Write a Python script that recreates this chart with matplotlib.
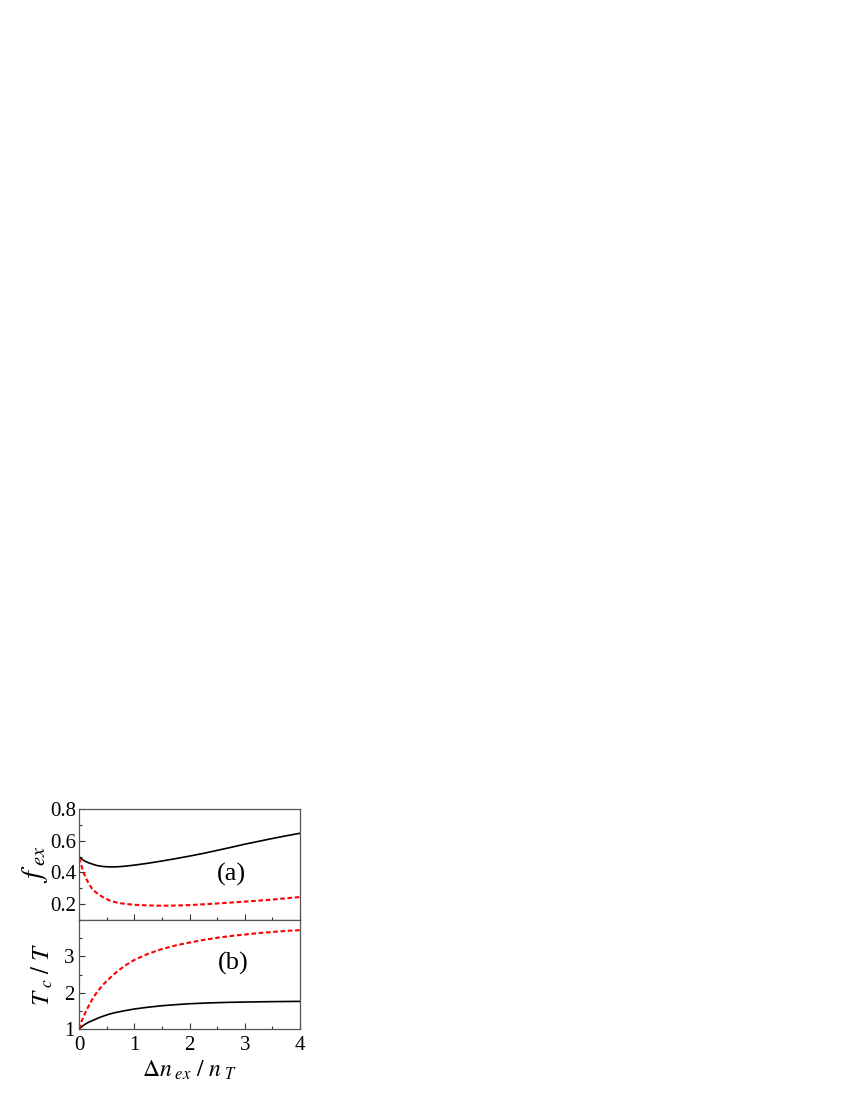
import matplotlib
matplotlib.use('Agg')
import matplotlib.pyplot as plt
from matplotlib.ticker import MultipleLocator

plt.rcParams['font.family'] = ['Liberation Serif', 'DejaVu Serif']
plt.rcParams['mathtext.fontset'] = 'stix'

# values
x = [0, 0.03, 0.07, 0.12, 0.18, 0.24, 0.3, 0.36, 0.45, 0.55, 0.65, 0.75, 0.85,
     1.0, 1.25, 1.5, 1.75, 2.0, 2.25, 2.5, 2.75, 3.0, 3.25, 3.5, 3.75, 4.0]
f_black = [0.50, 0.49, 0.479, 0.469, 0.46, 0.453, 0.446, 0.441, 0.437, 0.435, 0.435,
           0.437, 0.44, 0.446, 0.458, 0.472, 0.487, 0.503, 0.52, 0.539, 0.558,
           0.578, 0.596, 0.614, 0.631, 0.647]
f_red = [0.49, 0.463, 0.41, 0.368, 0.326, 0.296, 0.276, 0.26, 0.24, 0.224, 0.213,
         0.206, 0.201, 0.196, 0.192, 0.19, 0.191, 0.194, 0.199, 0.204, 0.21,
         0.216, 0.222, 0.229, 0.237, 0.245]
tc_black = [1.0, 1.04, 1.09, 1.14, 1.19, 1.23, 1.27, 1.31, 1.36, 1.41, 1.45, 1.48,
            1.51, 1.55, 1.6, 1.64, 1.67, 1.695, 1.712, 1.725, 1.735, 1.742, 1.748,
            1.753, 1.757, 1.76]
tc_red = [1.0, 1.15, 1.3, 1.47, 1.65, 1.82, 1.96, 2.08, 2.24, 2.39, 2.53, 2.65,
          2.76, 2.9, 3.07, 3.2, 3.3, 3.38, 3.45, 3.51, 3.56, 3.6, 3.64, 3.67,
          3.70, 3.72]

W, H = 850, 1100
fig = plt.figure(figsize=(8.5, 11), dpi=100)
left, right = 79 / W, 300 / W
ax1 = fig.add_axes([left, 1 - 920 / H, right - left, (920 - 809) / H])
ax2 = fig.add_axes([left, 1 - 1029 / H, right - left, (1029 - 920) / H])

ax1.plot(x, f_black, color='black', lw=1.2)
ax1.plot(x, f_red, color='red', lw=1.5, ls=(0, (2.2, 1.3)))
ax2.plot(x, tc_black, color='black', lw=1.2)
ax2.plot(x, tc_red, color='red', lw=1.5, ls=(0, (2.2, 1.3)))

ax1.set_xlim(0, 4)
ax1.set_ylim(0.1, 0.8)
ax2.set_xlim(0, 4)
ax2.set_ylim(1, 4)

for ax in (ax1, ax2):
    ax.xaxis.set_major_locator(MultipleLocator(1))
    ax.xaxis.set_minor_locator(MultipleLocator(0.5))
    ax.tick_params(which='both', direction='in', top=False, right=False,
                   labelsize=15, width=0.8, color='#333333', pad=2)
    ax.tick_params(which='major', length=4)
    ax.tick_params(which='minor', length=2.5)
    for s in ax.spines.values():
        s.set_color('#555555')
        s.set_linewidth(0.9)

ax1.set_yticks([0.2, 0.4, 0.6, 0.8])
ax1.yaxis.set_minor_locator(MultipleLocator(0.1))
ax1.tick_params(labelbottom=False)
ax2.set_yticks([1, 2, 3])
ax2.yaxis.set_minor_locator(MultipleLocator(0.5))
ax2.tick_params(axis='x', pad=5)
ax2.tick_params(axis='y', pad=3)

ax1.text(2.76, 0.385, '(a)', fontsize=19, ha='center', va='center')
ax2.text(2.8, 2.8, '(b)', fontsize=19, ha='center', va='center')

ax1.set_ylabel(r'$f_{\ ex}$', fontsize=21)
ax2.set_ylabel(r'$T_{\ c}\ /\ T$', fontsize=18)
ax2.set_xlabel(r'$\mathit{\Delta} n_{\ ex}\ /\ n_{\ T}$', fontsize=17, labelpad=3)
ax1.yaxis.set_label_coords(-0.13, 0.5)
ax2.yaxis.set_label_coords(-0.11, 0.5)

fig.savefig('out.png', dpi=100)
